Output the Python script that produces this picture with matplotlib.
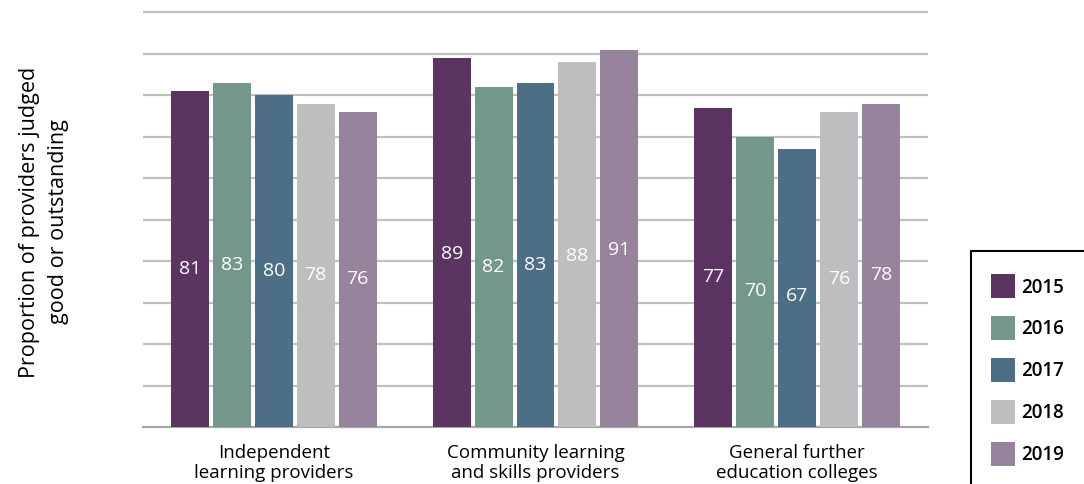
import matplotlib.pyplot as plt
import numpy as np
from matplotlib.patches import Rectangle

# Datos
categorias = ["Independent\nlearning providers",
              "Community learning\nand skills providers",
              "General further\neducation colleges"]
anios = ["2015", "2016", "2017", "2018", "2019"]
valores_2015 = [81, 89, 77]
valores_2016 = [83, 82, 70]
valores_2017 = [80, 83, 67]
valores_2018 = [78, 88, 76]
valores_2019 = [76, 91, 78]
series = [valores_2015, valores_2016, valores_2017, valores_2018, valores_2019]

colores = ["#5b3462", "#74978b", "#4d6f86", "#bdbebd", "#98839c"]

plt.rcParams['font.family'] = ['Open Sans', 'DejaVu Sans']

fig = plt.figure(figsize=(10.84, 4.84), dpi=100)
# el eje llega un poco por encima de 100 para que la línea superior no se corte
ax = fig.add_axes([143 / 1084, 1 - 427 / 484, 785 / 1084, 418 / 484])

x = np.arange(len(categorias))
ancho = 0.145
paso = 0.16

for i, (anio, vals) in enumerate(zip(anios, series)):
    pos = x + (i - 2) * paso
    barras = ax.bar(pos, vals, width=ancho, color=colores[i], label=anio, zorder=3)
    for b, v in zip(barras, vals):
        ax.text(b.get_x() + b.get_width() / 2, v * 0.47, str(v),
                ha='center', va='center', color='white', fontsize=14, zorder=4)

ax.set_xlim(-0.5, 2.5)
ax.set_ylim(0, 100 * 418 / 414.5)
ax.set_yticks(np.arange(10, 101, 10))
ax.set_yticklabels([])
ax.tick_params(axis='y', length=0)
ax.grid(True, axis='y', color='#c0c0c0', linewidth=1.6, zorder=0)
ax.set_axisbelow(True)

ax.set_xticks(x)
ax.set_xticklabels(categorias, fontsize=13.5, linespacing=1.2)
ax.tick_params(axis='x', length=0, pad=12)

for lado in ['top', 'right', 'left']:
    ax.spines[lado].set_visible(False)
ax.spines['bottom'].set_color('#a6a6a6')
ax.spines['bottom'].set_linewidth(1.6)

# Título del eje Y colocado a mano
fig.text(44 / 1084, 1 - 222 / 484, "Proportion of providers judged\ngood or outstanding",
         rotation=90, ha='center', va='center', multialignment='center',
         fontsize=15.5, linespacing=1.45)

# Leyenda con marco que se sale de la figura
fig.patches.append(Rectangle((971 / 1084, -0.1), 0.2, (484 - 251) / 484 + 0.1,
                             transform=fig.transFigure, fill=False,
                             edgecolor='black', linewidth=1.5))
handles, labels = ax.get_legend_handles_labels()
fig.legend(handles, labels, loc='upper left', bbox_to_anchor=(982 / 1084, 1 - 265 / 484),
           frameon=False, handlelength=1.28, handleheight=1.59,
           labelspacing=0.96, handletextpad=0.3, borderpad=0,
           prop={'weight': 'semibold', 'size': 13.5})

plt.savefig("out.png", dpi=100)
